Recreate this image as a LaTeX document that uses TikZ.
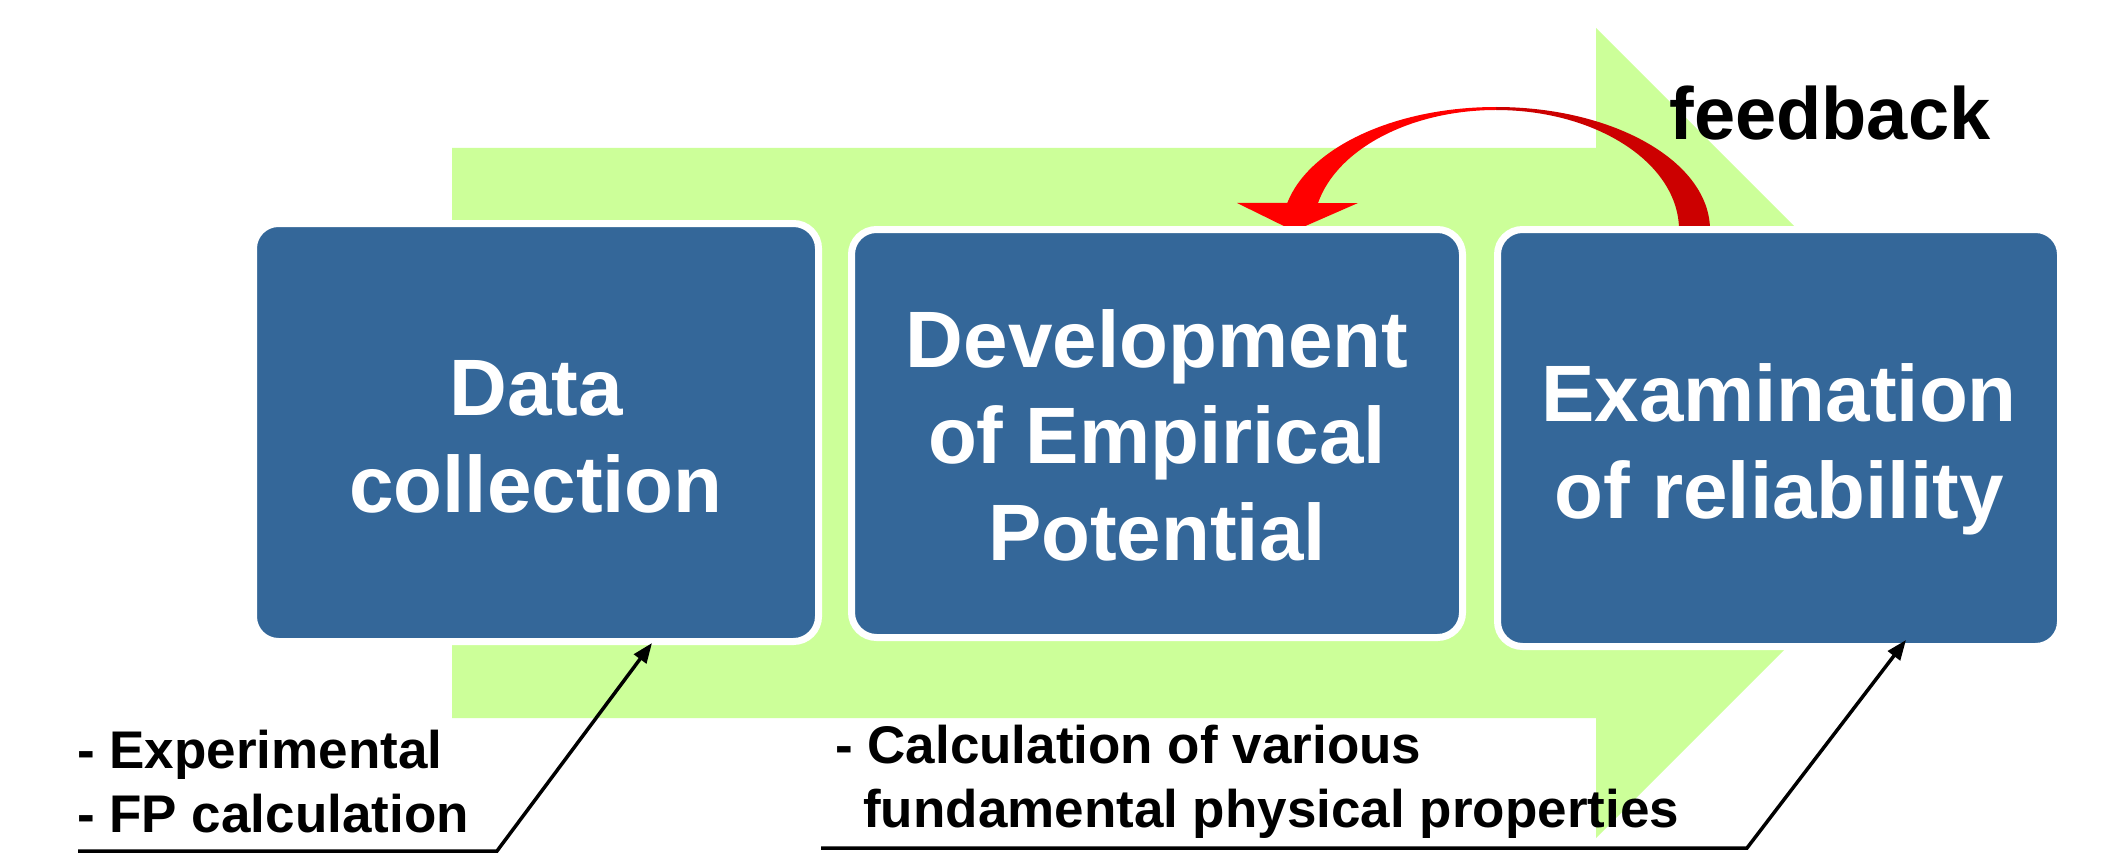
\documentclass[tikz,border=0pt]{standalone}
\usepackage{fontspec}
\setmainfont{Liberation Sans}
\usetikzlibrary{arrows.meta,calc}

\definecolor{flowgreen}{RGB}{204,255,153}
\definecolor{boxblue}{RGB}{52,103,153}
\definecolor{arcred}{RGB}{255,0,0}
\definecolor{arcdark}{RGB}{204,0,0}

\tikzset{
  stepbox/.style={draw=white, line width=7pt, fill=boxblue, rounded corners=25pt,
    inner sep=0pt, outer sep=0pt},
  boxtext/.style={text=white, font=\fontsize{80}{96}\selectfont\bfseries,
    anchor=base, inner sep=0pt},
  notetext/.style={text=black, font=\fontsize{53}{64}\selectfont\bfseries,
    anchor=base west, inner sep=0pt},
  headtext/.style={text=black, font=\fontsize{74}{88}\selectfont\bfseries,
    anchor=base, inner sep=0pt},
  callout/.style={draw=black, line width=3.5pt, line join=miter,
    -{Triangle[length=20pt,width=15pt]}},
}

\begin{document}
\begin{tikzpicture}[x=1pt,y=-1pt]
\useasboundingbox (0,0) rectangle (2116,853);
\fill[white] (0,0) rectangle (2116,853);

% wide process arrow in the background
\fill[flowgreen] (452,148) -- (1596,148) -- (1596,28) -- (2001,433)
  -- (1596,838) -- (1596,718) -- (452,718) -- cycle;

% feedback arc: darker right half (tail)
\fill[arcdark] (1496,107)
  arc[start angle=-90, end angle=0, x radius=214, y radius=123]
  -- (1679,230)
  arc[start angle=0, end angle=-90, x radius=183, y radius=120] -- cycle;
% feedback arc: bright left half with the head
\fill[arcred] (1496,107)
  arc[start angle=-90, end angle=-167.3, x radius=214, y radius=123]
  -- (1237,203) -- (1294,231) -- (1358,203) -- (1318,203)
  arc[start angle=-167, end angle=-90, x radius=183, y radius=120] -- cycle;

% process steps
\node[stepbox, minimum width=565pt, minimum height=418pt] (box1) at (536,432.5) {};
\node[stepbox, minimum width=611pt, minimum height=408pt] (box2) at (1157,433.5) {};
\node[stepbox, minimum width=563pt, minimum height=417pt] (box3) at (1779,438) {};

\node[boxtext] (d1) at (536,415) {Data};
\node[boxtext] (d2) at (536,512) {collection};

\node[boxtext] (e1) at (1157,367) {Development};
\node[boxtext] (e2) at (1157,463) {of Empirical};
\node[boxtext] (e3) at (1157,560) {Potential};

\node[boxtext] (r1) at (1779,421) {Examination};
\node[boxtext] (r2) at (1779,518) {of reliability};

\node[headtext] (fb) at (1830,140) {feedback};

% notes below the steps
\node[notetext] (n1) at (77,768) {- Experimental};
\node[notetext] (n2) at (77,832) {- FP calculation};

\node[notetext] (m1) at (835,763) {- Calculation of various};
\node[notetext] (m2) at (863,827) {fundamental physical properties};

% callout lines from the notes to the steps
\coordinate (la) at (78,851);
\coordinate (lb) at (497,851);
\draw[callout] (la) -- (lb) -- ($(box1.south)+(116,1.5)$);

\coordinate (ra) at (821,848);
\coordinate (rb) at (1747,848);
\draw[callout] (ra) -- (rb) -- ($(box3.south)+(127,-6.5)$);
\end{tikzpicture}
\end{document}
